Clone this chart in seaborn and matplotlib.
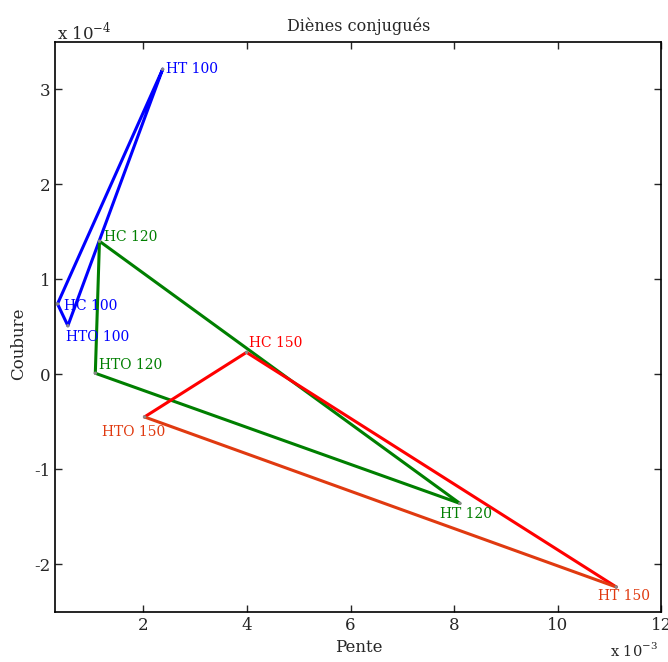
import matplotlib
matplotlib.use("Agg")

import matplotlib.pyplot as plt
import pandas as pd
import seaborn as sns

# ── data (pente x1e-3, courbure x1e-4) ──────────────────────────────────────
labels_100 = ["HT 100", "HC 100", "HTO 100"]
pente_100 = [2.37, 0.34, 0.54]
courbure_100 = [3.21, 0.74, 0.51]

labels_120 = ["HC 120", "HTO 120", "HT 120"]
pente_120 = [1.15, 1.07, 8.11]
courbure_120 = [1.40, 0.01, -1.36]

labels_150 = ["HC 150", "HTO 150", "HT 150"]
pente_150 = [3.99, 2.02, 11.13]
courbure_150 = [0.23, -0.45, -2.24]

BLUE = "#0000ff"
GREEN = "#007f00"
RED = "#ff0000"
ORANGE = "#e03a10"

sns.set_style("ticks")
plt.rcParams["font.family"] = ["DejaVu Serif"]
plt.rcParams["axes.unicode_minus"] = False
plt.rcParams["xtick.direction"] = "in"
plt.rcParams["ytick.direction"] = "in"

fig = plt.figure(figsize=(6.68, 6.62), dpi=100)
ax = fig.add_axes([0.083, 0.076, 0.907, 0.861])


def closed(xs, ys):
    return pd.DataFrame({"x": list(xs) + [xs[0]], "y": list(ys) + [ys[0]]})


lw = 2.2
# blue triangle
d = closed(pente_100, courbure_100)
sns.lineplot(data=d, x="x", y="y", sort=False, estimator=None, color=BLUE, lw=lw, ax=ax)
# green triangle
d = closed(pente_120, courbure_120)
sns.lineplot(data=d, x="x", y="y", sort=False, estimator=None, color=GREEN, lw=lw, ax=ax)
# red triangle: HTO->HC->HT in red, HTO->HT in orange-red
d = pd.DataFrame({"x": [pente_150[1], pente_150[0], pente_150[2]],
                  "y": [courbure_150[1], courbure_150[0], courbure_150[2]]})
sns.lineplot(data=d, x="x", y="y", sort=False, estimator=None, color=RED, lw=lw, ax=ax)
d = pd.DataFrame({"x": [pente_150[1], pente_150[2]], "y": [courbure_150[1], courbure_150[2]]})
sns.lineplot(data=d, x="x", y="y", sort=False, estimator=None, color=ORANGE, lw=lw, ax=ax)

# small grey vertex markers
allx = pente_100 + pente_120 + pente_150
ally = courbure_100 + courbure_120 + courbure_150
sns.scatterplot(x=allx, y=ally, color="#888888", s=6, edgecolor="none", ax=ax, zorder=5)

# point label offsets (dx, dy) in data units
offsets = {
    "HT 100": (0.07, 0.0),
    "HC 100": (0.12, -0.02),
    "HTO 100": (-0.03, -0.12),
    "HC 120": (0.08, 0.04),
    "HTO 120": (0.07, 0.09),
    "HT 120": (-0.38, -0.11),
    "HC 150": (0.05, 0.10),
    "HTO 150": (-0.82, -0.16),
    "HT 150": (-0.35, -0.10),
}
label_colors = {"100": BLUE, "120": GREEN}
for labs, xs, ys in [(labels_100, pente_100, courbure_100),
                     (labels_120, pente_120, courbure_120),
                     (labels_150, pente_150, courbure_150)]:
    for lab, x, y in zip(labs, xs, ys):
        dx, dy = offsets[lab]
        if lab.endswith("150"):
            col = RED if lab.startswith("HC") else ORANGE
        else:
            col = label_colors[lab[-3:]]
        ax.text(x + dx, y + dy, lab, color=col, fontsize=10, ha="left", va="center")

ax.set_xlim(0.3, 12)
ax.set_ylim(-2.5, 3.5)
ax.set_xticks([2, 4, 6, 8, 10, 12])
ax.set_yticks([-2, -1, 0, 1, 2, 3])
ax.tick_params(top=True, right=True, labelsize=12, length=5, width=1)
for s in ax.spines.values():
    s.set_visible(True)
    s.set_color("black")
    s.set_linewidth(1.2)

ax.set_title("Diènes conjugués", fontsize=11.5, pad=8)
ax.set_xlabel("Pente", fontsize=12, labelpad=4)
ax.set_ylabel("Coubure", fontsize=12)
ax.yaxis.set_label_coords(-0.047, 0.47)

fig.text(57 / 668, 1 - 32 / 662, r"x 10$^{\mathregular{-4}}$", fontsize=12, va="center")
fig.text(610 / 668, 1 - 650 / 662, r"x 10$^{\mathregular{-3}}$", fontsize=10.5, va="center")

fig.savefig("out.png", dpi=100)
